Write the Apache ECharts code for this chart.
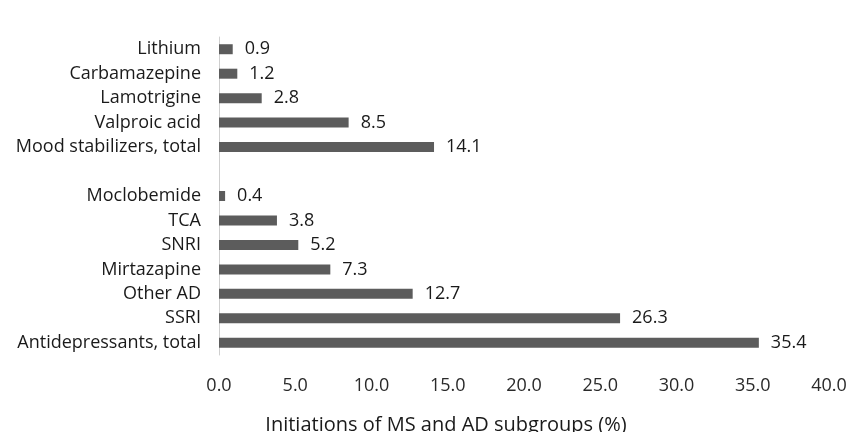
<!DOCTYPE html>
<html>
<head>
<meta charset="utf-8">
<script src="https://cdn.jsdelivr.net/npm/echarts@6/dist/echarts.min.js"></script>
<style>html,body{margin:0;padding:0;background:#fff}#c{width:860px;height:432px}</style>
</head>
<body>
<div id="c"></div>
<script>
// bottom-to-top order
const categories = ['Antidepressants, total','SSRI','Other AD','Mirtazapine','SNRI','TCA','Moclobemide','','Mood stabilizers, total','Valproic acid','Lamotrigine','Carbamazepine','Lithium'];
const values = [35.4, 26.3, 12.7, 7.3, 5.2, 3.8, 0.4, null, 14.1, 8.5, 2.8, 1.2, 0.9];
const xTicks = { min: 0, max: 40, interval: 5 };
const axisTitle = 'Initiations of MS and AD subgroups (%)';

const chart = echarts.init(document.getElementById('c'), null, {renderer: 'canvas'});
const font = '"Open Sans", "Noto Sans", sans-serif';
chart.setOption({
  animation: false,
  backgroundColor: '#fff',
  title: {
    text: axisTitle,
    left: 441, top: 410, textAlign: 'center',
    textStyle: { fontFamily: font, fontSize: 20, fontWeight: 'normal', color: '#1a1a1a' }
  },
  grid: { left: 219, right: 31, top: 37, height: 318, containLabel: false },
  xAxis: {
    type: 'value', min: xTicks.min, max: xTicks.max, interval: xTicks.interval,
    axisLine: { show: false }, axisTick: { show: false }, splitLine: { show: false },
    axisLabel: { formatter: v => v.toFixed(1), fontFamily: font, fontSize: 18, color: '#2a2a2a', margin: 22 }
  },
  yAxis: {
    type: 'category', data: categories,
    axisLine: { show: true, lineStyle: { color: '#cfcfcf', width: 1 } },
    axisTick: { show: false },
    axisLabel: { fontFamily: font, fontSize: 18, color: '#1a1a1a', margin: 18 }
  },
  series: [{
    type: 'bar', data: values, barWidth: 10,
    itemStyle: { color: '#5c5c5c' },
    label: { show: true, position: 'right', distance: 12, formatter: p => p.value == null ? '' : p.value.toFixed(1),
      fontFamily: font, fontSize: 18, color: '#1a1a1a' }
  }]
});
</script>
</body>
</html>
